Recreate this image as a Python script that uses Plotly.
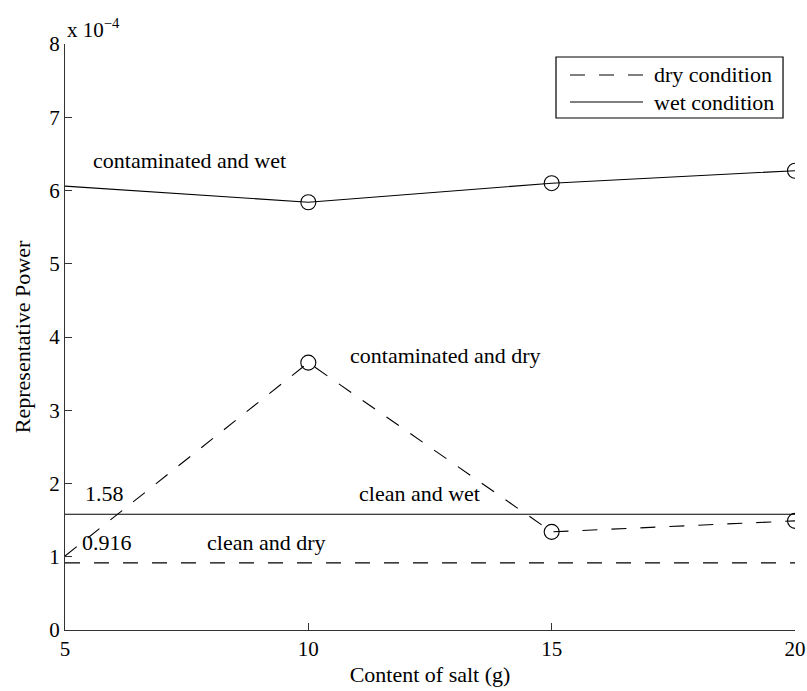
import plotly.graph_objects as go

# Salt content (g) and representative power (units of 1e-4)
salt = [5, 10, 15, 20]
wet_contaminated = [6.06, 5.84, 6.10, 6.27]
dry_contaminated = [1.01, 3.65, 1.34, 1.49]
wet_clean = 1.58
dry_clean = 0.916

x_ticks = [5, 10, 15, 20]
y_ticks = [0, 1, 2, 3, 4, 5, 6, 7, 8]
legend_names = ["dry condition", "wet condition"]

FONT = "Liberation Serif"
DASH = "15px,14px"
LINE = dict(color="black", width=1.1)

fig = go.Figure()

# Clean references as horizontal lines across the salt range
fig.add_trace(go.Scatter(x=[salt[0], salt[-1]], y=[dry_clean, dry_clean], mode="lines",
                         line=dict(LINE, dash=DASH), showlegend=False))
fig.add_trace(go.Scatter(x=[salt[0], salt[-1]], y=[wet_clean, wet_clean], mode="lines",
                         line=LINE, showlegend=False))

# Contaminated series
fig.add_trace(go.Scatter(x=salt, y=dry_contaminated, mode="lines",
                         line=dict(LINE, dash=DASH), showlegend=False))
fig.add_trace(go.Scatter(x=salt, y=wet_contaminated, mode="lines",
                         line=LINE, showlegend=False))

# Circle markers on the measured contaminated points
circle = dict(symbol="circle-open", size=15, color="black", line=dict(width=1.1, color="black"))
fig.add_trace(go.Scatter(x=salt[1:], y=dry_contaminated[1:], mode="markers",
                         marker=circle, showlegend=False))
fig.add_trace(go.Scatter(x=salt[1:], y=wet_contaminated[1:], mode="markers",
                         marker=circle, showlegend=False))

labels = [
    ("contaminated and wet", 5.53, 6.41),
    ("contaminated and dry", 10.81, 3.75),
    ("1.58", 5.37, 1.87),
    ("clean and wet", 11.0, 1.87),
    ("0.916", 5.31, 1.20),
    ("clean and dry", 7.88, 1.20),
]
for text, lx, ly in labels:
    fig.add_annotation(x=lx, y=ly, text=text, showarrow=False, xanchor="left",
                       yanchor="middle", font=dict(size=22, color="black", family=FONT))

fig.add_annotation(x=0, y=1.027, xref="paper", yref="paper", text="x 10<sup>\u22124</sup>",
                   showarrow=False, xanchor="left", yanchor="middle",
                   font=dict(size=21, color="black", family=FONT))

# Boxed legend in the upper right corner (paper coordinates)
fig.add_shape(type="rect", xref="paper", yref="paper", x0=0.6726, x1=0.9836,
              y0=0.8737, y1=0.9778, line=dict(color="black", width=1.2),
              fillcolor="white", layer="above")
legend_rows = [(0.9471, DASH), (0.9010, "solid")]
for name, (ry, dash) in zip(legend_names, legend_rows):
    fig.add_shape(type="line", xref="paper", yref="paper", x0=0.6918, x1=0.7918,
                  y0=ry, y1=ry, line=dict(LINE, dash=dash), layer="above")
    fig.add_annotation(x=0.8041, y=ry, xref="paper", yref="paper", text=name,
                       showarrow=False, xanchor="left", yanchor="middle",
                       font=dict(size=22, color="black", family=FONT))

axis_common = dict(showgrid=False, zeroline=False, showline=True, linecolor="#333333",
                   linewidth=1, ticks="inside", ticklen=7, tickcolor="#333333",
                   tickfont=dict(size=21, color="black", family=FONT), mirror=False,
                   automargin=False)

fig.update_xaxes(range=[5, 20], tickvals=x_ticks, ticktext=[str(v) for v in x_ticks],
                 title=dict(text="Content of salt (g)", font=dict(size=22, color="black", family=FONT),
                            standoff=6),
                 **axis_common)
fig.update_yaxes(range=[0, 8], tickvals=y_ticks, ticktext=[str(v) for v in y_ticks],
                 title=dict(text="Representative Power", font=dict(size=22, color="black", family=FONT),
                            standoff=12),
                 **axis_common)

fig.update_layout(
    width=807, height=691,
    margin=dict(l=65, r=12, t=44, b=61, autoexpand=False),
    plot_bgcolor="white", paper_bgcolor="white",
    font=dict(family=FONT, color="black"),
    showlegend=False,
)

fig.write_html("out.html")
